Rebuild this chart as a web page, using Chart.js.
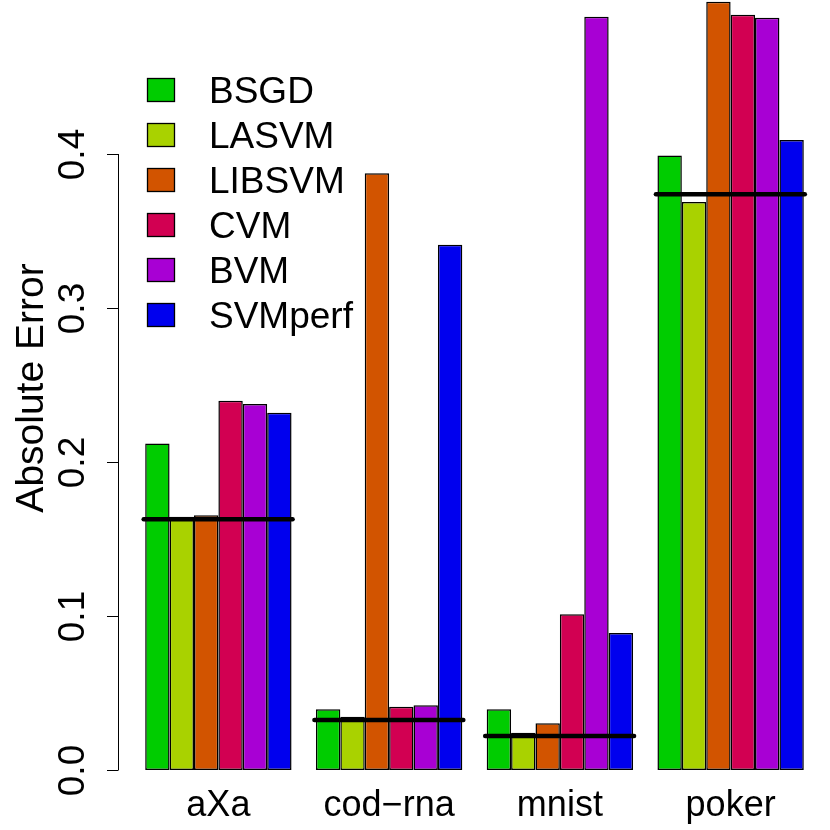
<!DOCTYPE html>
<html>
<head>
<meta charset="utf-8">
<script src="https://cdn.jsdelivr.net/npm/chart.js@4/dist/chart.umd.min.js"></script>
<style>
body { margin: 0; background: #fff; }
</style>
</head>
<body>
<canvas id="myChart" width="830" height="830"></canvas>
<script>
// data
var categories = ['aXa', 'cod\u2212rna', 'mnist', 'poker'];
var methods = ['BSGD', 'LASVM', 'LIBSVM', 'CVM', 'BVM', 'SVMperf'];
var colors = ['#00CC00', '#A9D200', '#D25400', '#D20052', '#A800D4', '#0000EE'];

var bsgd = [0.212, 0.0394, 0.0394, 0.399];
var lasvm = [0.1645, 0.0346, 0.0242, 0.3688];
var libsvm = [0.1654, 0.3875, 0.0303, 0.4989];
var cvm = [0.2398, 0.0411, 0.1011, 0.4905];
var bvm = [0.2377, 0.042, 0.4892, 0.4885];
var svmperf = [0.232, 0.3411, 0.089, 0.4091];
var reference = [0.1628, 0.0325, 0.0221, 0.3738];

var yTicks = [0, 0.1, 0.2, 0.3, 0.4];
var yTickLabels = ['0.0', '0.1', '0.2', '0.3', '0.4'];
var yTitle = 'Absolute Error';

var series = [bsgd, lasvm, libsvm, cvm, bvm, svmperf];
var font = 'Liberation Sans, Arial, Helvetica, sans-serif';

//R style axis, title, legend and reference lines
var rDecor = {
    id: 'rDecor',
    afterDatasetsDraw: function(chart) {
        var ctx = chart.ctx;
        var y = chart.scales.y;

        //thick black line across each group
        var first = chart.getDatasetMeta(0).data;
        var last = chart.getDatasetMeta(series.length - 1).data;
        ctx.save();
        ctx.strokeStyle = '#000';
        ctx.lineWidth = 4.5;
        ctx.lineCap = 'round';
        reference.forEach(function(v, i) {
            var x0 = first[i].x - first[i].width / 2 - 1.5;
            var x1 = last[i].x + last[i].width / 2 + 1;
            var py = y.getPixelForValue(v);
            ctx.beginPath();
            ctx.moveTo(x0, py);
            ctx.lineTo(x1, py);
            ctx.stroke();
        });
        ctx.restore();

        //y axis
        var axisX = 118;
        ctx.save();
        ctx.strokeStyle = '#000';
        ctx.lineWidth = 1;
        ctx.beginPath();
        ctx.moveTo(axisX + 0.5, y.getPixelForValue(yTicks[0]));
        ctx.lineTo(axisX + 0.5, y.getPixelForValue(yTicks[yTicks.length - 1]));
        ctx.stroke();
        ctx.fillStyle = '#000';
        ctx.font = '37px ' + font;
        ctx.textAlign = 'center';
        ctx.textBaseline = 'alphabetic';
        yTicks.forEach(function(t, i) {
            var py = Math.round(y.getPixelForValue(t)) + 0.5;
            ctx.beginPath();
            ctx.moveTo(axisX - 11, py);
            ctx.lineTo(axisX + 0.5, py);
            ctx.stroke();
            ctx.save();
            ctx.translate(84, py);
            ctx.rotate(-Math.PI / 2);
            ctx.fillText(yTickLabels[i], 0, 0);
            ctx.restore();
        });

        //y title
        ctx.save();
        ctx.font = '39px ' + font;
        ctx.translate(43, 388);
        ctx.rotate(-Math.PI / 2);
        ctx.fillText(yTitle, 0, 0);
        ctx.restore();

        //legend
        ctx.font = '37px ' + font;
        ctx.textAlign = 'left';
        ctx.lineWidth = 1.3;
        chart.data.datasets.forEach(function(ds, i) {
            var cy = 90 + 45 * i;
            ctx.fillStyle = ds.backgroundColor;
            ctx.fillRect(147, cy - 11.5, 27, 23);
            ctx.strokeRect(147.5, cy - 11.5, 27, 23);
            ctx.fillStyle = '#000';
            ctx.fillText(ds.label, 209, cy + 13);
        });
        ctx.restore();
    }
};

var datasets = methods.map(function(m, i) {
    return {
        label: m,
        data: series[i],
        backgroundColor: colors[i],
        borderColor: '#000',
        borderWidth: 1.5,
        borderSkipped: false,
        inflateAmount: 0,
        barPercentage: 1,
        categoryPercentage: 6 / 7
    };
});

var ctx = document.getElementById('myChart');
var myChart = new Chart(ctx, {
    type: 'bar',
    data: {
        labels: categories,
        datasets: datasets
    },
    options: {
        responsive: false,
        animation: false,
        devicePixelRatio: 1,
        layout: { padding: { left: 133, right: 14, top: 0, bottom: 0 } },
        plugins: {
            legend: { display: false },
            tooltip: { enabled: false }
        },
        scales: {
            x: {
                grid: { display: false, drawTicks: false },
                border: { display: false },
                ticks: {
                    color: '#000',
                    font: { family: font, size: 36 },
                    padding: 14,
                    maxRotation: 0
                },
                afterFit: function(scale) { scale.height = 60; }
            },
            y: {
                display: false,
                min: 0,
                max: 0.5
            }
        }
    },
    plugins: [rDecor]
});
</script>
</body>
</html>
